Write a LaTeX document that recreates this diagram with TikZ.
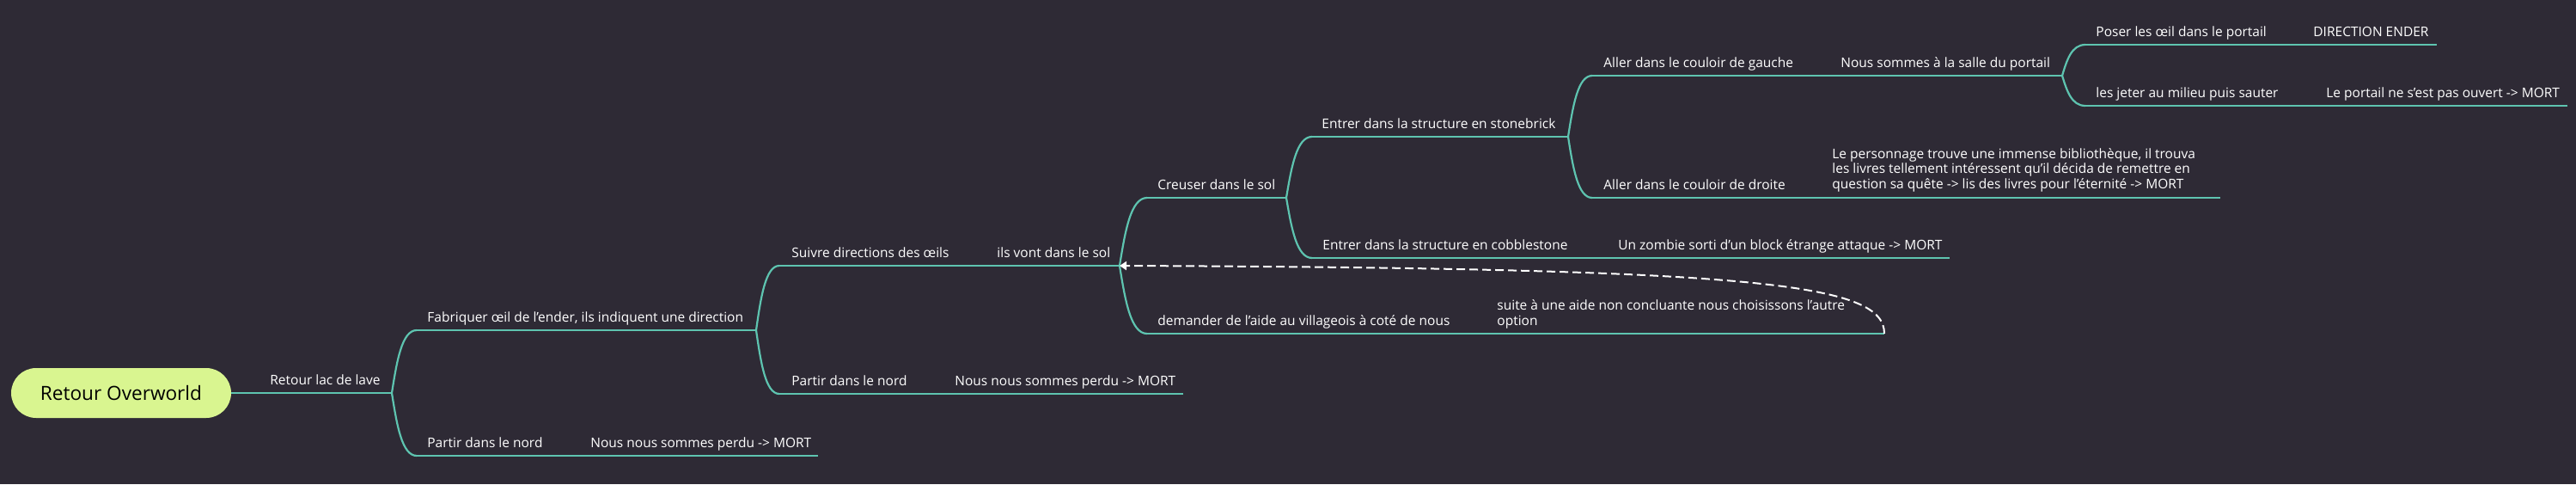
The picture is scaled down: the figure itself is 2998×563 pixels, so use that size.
\documentclass[tikz,border=0pt]{standalone}
\usepackage{fontspec}
\setmainfont{Open Sans}
\usetikzlibrary{calc,arrows.meta}
\definecolor{bg}{RGB}{46,42,53}
\definecolor{branchcol}{RGB}{94,196,176}
\definecolor{rootfill}{RGB}{217,245,144}
\tikzset{
  topic/.style={anchor=base west, inner sep=0pt, text=white, font=\fontsize{7.75}{8.6}\selectfont, align=left},
  uline/.style={draw=branchcol, line width=1.1pt},
  edge/.style={draw=branchcol, line width=1.1pt},
  rootbox/.style={draw=none, fill=rootfill, rounded corners=14.5pt, minimum width=128pt, minimum height=29pt, inner sep=0pt, font=\fontsize{11.3}{13}\selectfont, text=black},
  relation/.style={draw=white, line width=1pt, dash pattern=on 5pt off 2.5pt, -{Triangle[width=5pt,length=4pt,fill=white]}},
}
\newcommand\mybranch[2]{\draw[edge] let \p1=(#1), \p2=(#2) in (\p1) .. controls ({\x1+0.2*(\x2-\x1)}, {\y1+0.5*(\y2-\y1)}) and ({\x1+0.4*(\x2-\x1)}, \y2) .. (\p2);}
\begin{document}
\begin{tikzpicture}[x=0.5pt, y=-0.5pt]
\useasboundingbox (0,0) rectangle (2998,563);
\fill[bg] (0,0) rectangle (2998,563);

% root
\node[rootbox] (root) at (141,457) {Retour Overworld};

% coordinates: line starts (s) and ends (e)
\coordinate (Ae) at (456,457);
\coordinate (Bs) at (485,384);  \coordinate (Be) at (880,384);
\coordinate (Cs) at (485,530);  \coordinate (Ce) at (952,530);
\coordinate (Ds) at (907,309);  \coordinate (De) at (1303,309);
\coordinate (Es) at (907,458);  \coordinate (Ee) at (1377,458);
\coordinate (Fs) at (1335,230); \coordinate (Fe) at (1497,230);
\coordinate (Gs) at (1335,388); \coordinate (Ge) at (2193,388);
\coordinate (Hs) at (1527,159); \coordinate (He) at (1825,159);
\coordinate (Is) at (1527,300); \coordinate (Ie) at (2269,300);
\coordinate (Js) at (1853,88);  \coordinate (Je) at (2400,88);
\coordinate (Ks) at (1853,230); \coordinate (Ke) at (2584,230);
\coordinate (Ls) at (2427,52);  \coordinate (Le) at (2836,52);
\coordinate (Ms) at (2427,123); \coordinate (Me) at (2988,123);

% underlines
\draw[uline] (root.east) -- (Ae);
\foreach \t in {B,C,D,E,F,G,H,I,J,K,L,M}{\draw[uline] (\t s) -- (\t e);}

% branches
\mybranch{Ae}{Bs}
\mybranch{Ae}{Cs}
\mybranch{Be}{Ds}
\mybranch{Be}{Es}
\mybranch{De}{Fs}
\mybranch{De}{Gs}
\mybranch{Fe}{Hs}
\mybranch{Fe}{Is}
\mybranch{He}{Js}
\mybranch{He}{Ks}
\mybranch{Je}{Ls}
\mybranch{Je}{Ms}

% texts
\node[topic] (A)  at (314,447)  {Retour lac de lave};
\node[topic] (B)  at (497,374)  {Fabriquer œil de l'ender, ils indiquent une direction};
\node[topic] (C)  at (497,520)  {Partir dans le nord};
\node[topic] (C2) at (687,520)  {Nous nous sommes perdu -> MORT};
\node[topic] (D)  at (921,299)  {Suivre directions des œils};
\node[topic] (D2) at (1160,299) {ils vont dans le sol};
\node[topic] (E)  at (921,448)  {Partir dans le nord};
\node[topic] (E2) at (1111,448) {Nous nous sommes perdu -> MORT};
\node[topic] (F)  at (1347,220) {Creuser dans le sol};
\node[topic] (G)  at (1347,378) {demander de l'aide au villageois à coté de nous};
\node[topic] (G2) at (1742,378) {suite à une aide non concluante nous choisissons l'autre\\option};
\node[topic] (H)  at (1538,149) {Entrer dans la structure en stonebrick};
\node[topic] (I)  at (1539,290) {Entrer dans la structure en cobblestone};
\node[topic] (I2) at (1883,290) {Un zombie sorti d'un block étrange attaque -> MORT};
\node[topic] (J)  at (1866,78)  {Aller dans le couloir de gauche};
\node[topic] (J2) at (2142,78)  {Nous sommes à la salle du portail};
\node[topic] (K)  at (1866,220) {Aller dans le couloir de droite};
\node[topic] (K2) at (2132,219) {Le personnage trouve une immense bibliothèque, il trouva\\les livres tellement intéressent qu'il décida de remettre en\\question sa quête -> lis des livres pour l'éternité -> MORT};
\node[topic] (L)  at (2439,42)  {Poser les œil dans le portail};
\node[topic] (L2) at (2692,42)  {DIRECTION ENDER};
\node[topic] (M)  at (2439,113) {les jeter au milieu puis sauter};
\node[topic] (M2) at (2707,113) {Le portail ne s'est pas ouvert -> MORT};

% relation
\draw[relation] (Ge) .. controls (2193,330) and (2050,312) .. (De);
\end{tikzpicture}
\end{document}
